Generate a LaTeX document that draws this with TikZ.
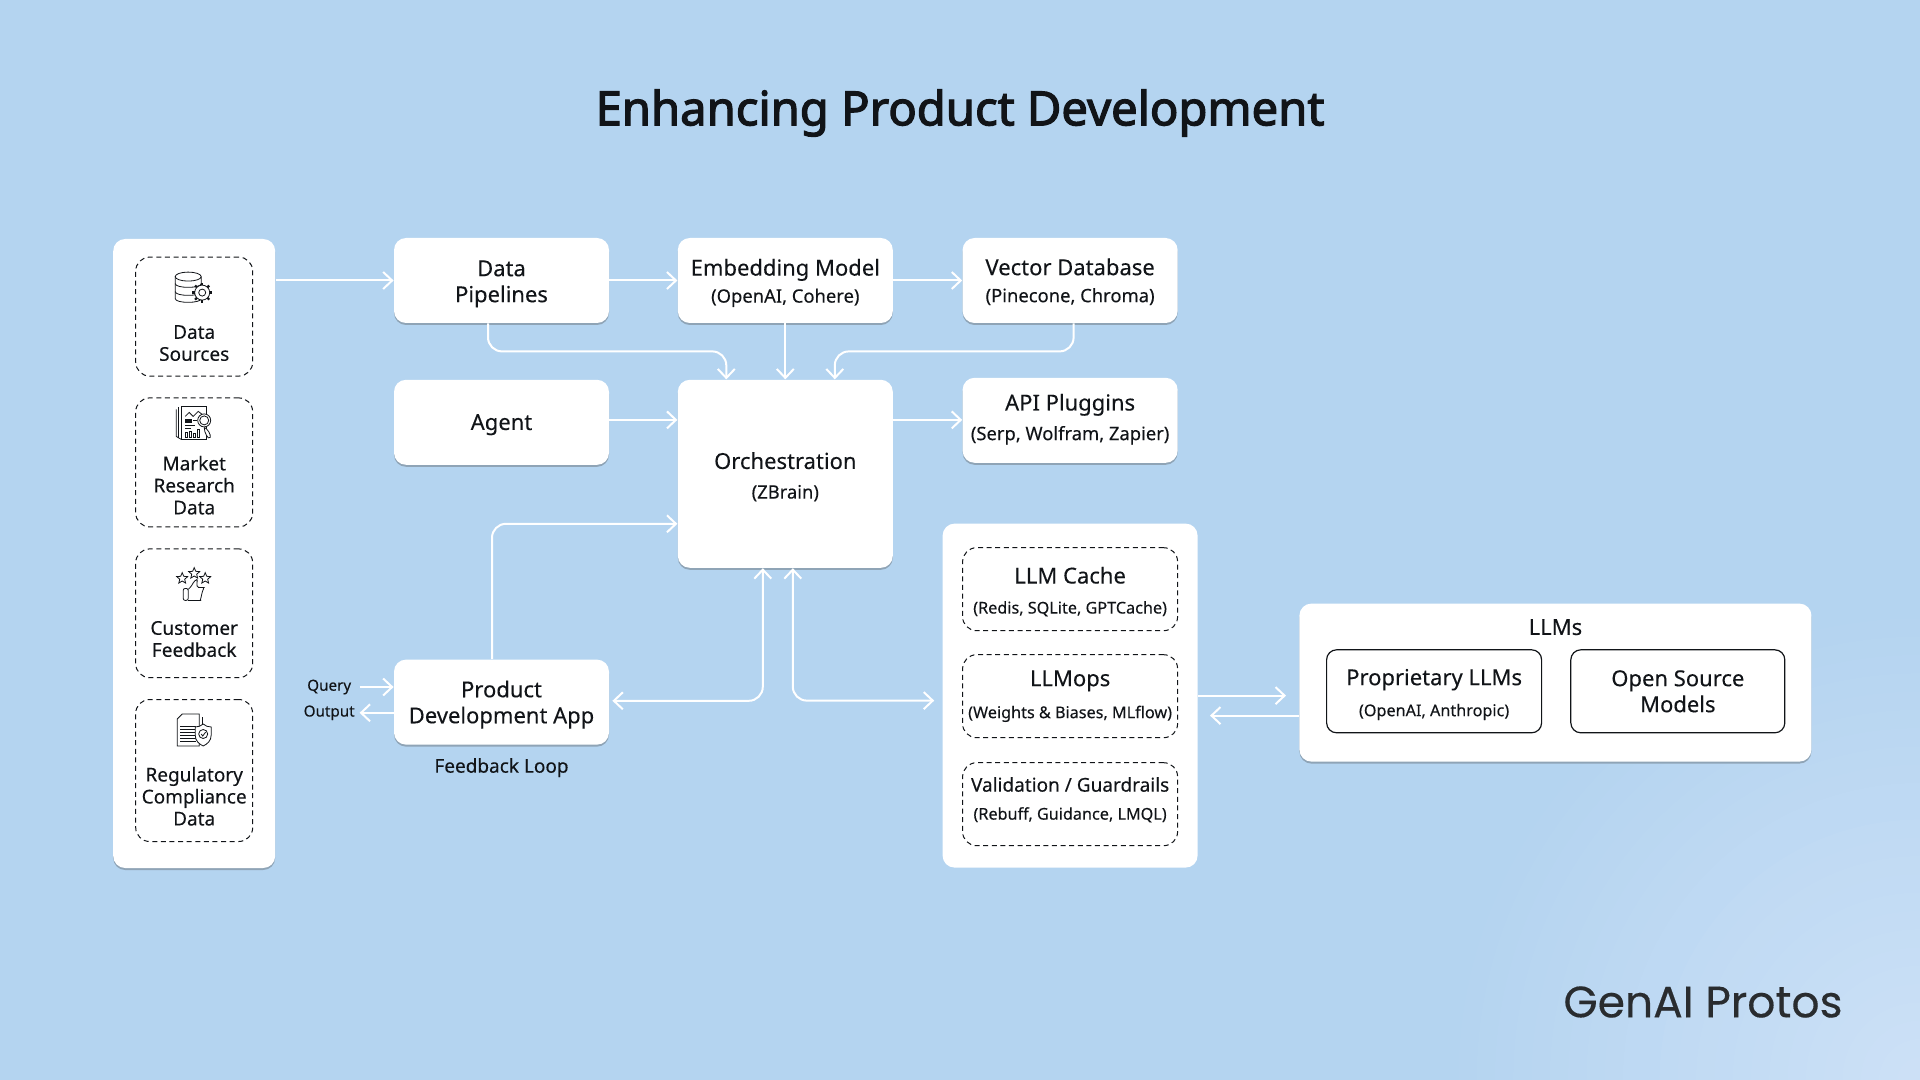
\documentclass[tikz,border=0pt]{standalone}
\usepackage{xcolor}
\usepackage{fontspec}
\setmainfont[FakeBold=0.2]{Noto Sans}
\newfontfamily\titlefont[FakeBold=2.6]{Noto Sans}
\newfontfamily\logofont[FakeBold=0.3]{Poppins}
\usetikzlibrary{positioning, arrows.meta, shadows}
\definecolor{bgblue}{HTML}{B4D4F0}
\definecolor{bglight}{HTML}{CCE0F6}
\definecolor{inkblack}{HTML}{111418}
\definecolor{shadowgray}{HTML}{8FA4B6}
\newcommand{\bigtxt}{\fontsize{11}{13}\selectfont}
\newcommand{\midtxt}{\fontsize{9.5}{11}\selectfont}
\newcommand{\seconds}{\fontsize{9.2}{11}\selectfont}
\newcommand{\subtxt}{\fontsize{8.1}{10}\selectfont}
\tikzstyle{flat} = [rectangle, rounded corners=6pt, fill=white, text=inkblack, align=center, inner sep=0pt, font=\bigtxt]
\tikzstyle{box} = [flat, minimum width=107.5pt, minimum height=42.5pt, text height=24.3pt, drop shadow={shadow xshift=0pt, shadow yshift=-1pt, fill=shadowgray, opacity=1}]
\tikzstyle{dashbox} = [rectangle, rounded corners=7pt, draw=inkblack, line width=.5pt, dash pattern=on 2.5pt off 1.8pt, align=center, inner sep=0pt, text=inkblack]
\tikzstyle{solidbox} = [rectangle, rounded corners=5pt, draw=inkblack, line width=.6pt, minimum width=107pt, minimum height=41.5pt, align=center, inner sep=0pt, text=inkblack, font=\bigtxt]
\tikzstyle{srctxt} = [align=center, inner sep=0pt, text=inkblack, font=\midtxt]
\tikzstyle{tag} = [align=center, inner sep=0pt, minimum width=30pt, text=inkblack, font=\fontsize{7.6}{10}\selectfont]
\tikzstyle{arrow} = [white, line width=1pt, ->, >={Straight Barb[length=4.5pt, width=8.5pt]}]
\tikzstyle{both} = [arrow, <->, rounded corners=7pt]
\tikzstyle{icon} = [draw=inkblack, line width=.4pt]
\tikzset{
  dbicon/.pic={
    \draw[icon] (-19,-10) -- (-19,12) .. controls (-19,17) and (7,17) .. (7,12) -- (7,-10);
    \draw[icon] (-6,-10) ellipse [x radius=13, y radius=4.5];
    \draw[icon] (-19,-3) .. controls (-19,2) and (7,2) .. (7,-3);
    \draw[icon] (-19,5) .. controls (-19,10) and (7,10) .. (7,5);
    \draw[icon, fill=white] (8,6) circle [radius=7.5];
    \foreach \a in {0,45,...,315} \draw[draw=inkblack, line width=1.1pt] (8,6) ++(\a:7.5) -- ++(\a:2.5);
    \draw[icon] (8,6) circle [radius=3.5];
  },
  reporticon/.pic={
    \draw[icon] (-18,-13) -- (-18,14) -- (-13,17);
    \draw[icon] (-15.5,-15) -- (-15.5,16);
    \draw[icon, fill=white] (-13,-16) rectangle (12,17);
    \draw[icon] (-9,-6) -- (-5,-10) -- (-1,-6) -- (4,-11) -- (8,-8);
    \draw[icon, fill=inkblack] (-9,-3) rectangle (-3,0);
    \draw[icon] (-1,-2) -- (3,-2);
    \draw[icon] (-9,3) -- (1,3);
    \draw[icon] (-9,6) -- (-3,6);
    \draw[icon] (-9,10) rectangle (-7,15);
    \draw[icon] (-5,9) rectangle (-3,15);
    \draw[icon] (-1,11) rectangle (1,15);
    \draw[icon] (3,7) rectangle (5,15);
    \draw[icon, fill=white] (10,-2) circle [radius=6.5];
    \draw[icon] (10,-2) circle [radius=4.5];
    \draw[icon, fill=white] (10,5) .. controls (13,6) and (17,12) .. (16,15) .. controls (14,18) and (10,10) .. (10,5);
  },
  starshape/.pic={
    \draw[icon, fill=white] (-90:5.8) -- (-54:2.6) -- (-18:5.8) -- (18:2.6) -- (54:5.8) -- (90:2.6) -- (126:5.8) -- (162:2.6) -- (198:5.8) -- (234:2.6) -- cycle;
  },
  thumbicon/.pic={
    \pic at (-12,-6) {starshape};
    \pic at (0,-11) {starshape};
    \pic at (11,-6) {starshape};
    \draw[icon, rounded corners=1pt] (-11,4) rectangle (-6,16);
    \draw[icon, rounded corners=1.5pt] (-6,5) -- (-2,1) -- (0,-4) .. controls (3,-5) and (3,-1) .. (2,3) -- (7,3) .. controls (9,3) and (9,5) .. (8,7) -- (7,13) .. controls (6,16) .. (4,16) -- (-6,16);
  },
  docicon/.pic={
    \draw[icon] (8,-13) -- (8,0);
    \draw[icon, fill=white] (-12,-16) -- (5,-16) -- (5,16) -- (-17,16) -- (-17,-11) -- cycle;
    \foreach \y in {-4,-1,2,5,8,11} \draw[icon] (-14,\y) -- (2,\y);
    \draw[icon, fill=white] (9,-6) .. controls (11,-4) and (14,-3) .. (17,-3) -- (17,5) .. controls (17,11) and (13,14) .. (9,16) .. controls (5,14) and (1,11) .. (1,5) -- (1,-3) .. controls (4,-3) and (7,-4) .. (9,-6) -- cycle;
    \draw[icon] (9,4) circle [radius=4.5];
    \draw[icon] (7,4) -- (8.5,6) -- (11.5,2);
  }
}
\begin{document}
\begin{tikzpicture}[x=0.5pt, y=-0.5pt]
    \useasboundingbox (0,0) rectangle (1920,1080);
    \fill[bgblue] (0,0) rectangle (1920,1080);
    \begin{scope}
      \clip (0,0) rectangle (1920,1080);
      \foreach \p in {4,8,...,100} \fill[bglight!\p!bgblue] (1920,1080) circle [radius={480*(1-\p/105)}];
    \end{scope}
    %
    \node(title)[text=inkblack, font=\titlefont\fontsize{23.6}{28}\selectfont] at (960,113) {Enhancing Product Development};
    \node(logo)[text=inkblack!90, font=\logofont\fontsize{22}{26}\selectfont] at (1703,1002) {GenAI Protos};
    %
    \node(pipelines)[box] at (501.5,280.5) {Data\\Pipelines};
    \node(embedding)[box, right=34pt of pipelines] {Embedding Model\\[.5pt]{\seconds (OpenAI, Cohere)}};
    \node(vector)[box, text height=23.1pt, right=34.5pt of embedding] {Vector Database\\[.5pt]{\seconds (Pinecone, Chroma)}};
    \node(agent)[box, text height=10.3pt, below=28pt of pipelines] {Agent};
    \node(orch)[box, text height=26.2pt, minimum height=94pt, below=28pt of embedding] {Orchestration\\[1.8pt]{\seconds (ZBrain)}};
    \node(api)[box, text height=22pt, below=27pt of vector] {API Pluggins\\[1.8pt]{\seconds (Serp, Wolfram, Zapier)}};
    \node(product)[box, text height=23.8pt, below=97pt of agent] {Product\\Development App};
    \node(loop)[srctxt, below=6.4pt of product] {Feedback Loop};
    \node(query)[tag, left=17pt of {[yshift=7.55pt]product.west}] {Query};
    \node(output)[tag, left=17pt of {[yshift=-5.35pt]product.west}] {Output};
    %
    \node(srcpanel)[flat, anchor=north east, minimum width=81pt, minimum height=314.5pt, drop shadow={shadow xshift=0pt, shadow yshift=-1pt, fill=shadowgray, opacity=1}] at ([xshift=-59pt, yshift=-.5pt]pipelines.north west) {};
    \node(srcA)[dashbox, minimum width=58.5pt, minimum height=59.5pt, below=9pt of srcpanel.north] {};
    \node(srcB)[dashbox, minimum width=58.5pt, minimum height=64.5pt, below=10.4pt of srcA] {};
    \node(srcC)[dashbox, minimum width=58.5pt, minimum height=64.4pt, below=10.5pt of srcB] {};
    \node(srcD)[dashbox, minimum width=58.5pt, minimum height=71pt, below=10.4pt of srcC] {};
    \node(srcAtxt)[srctxt] at ([yshift=16.75pt]srcA.south) {Data\\Sources};
    \node(srcBtxt)[srctxt] at ([yshift=21.1pt]srcB.south) {Market\\Research\\Data};
    \node(srcCtxt)[srctxt] at ([yshift=19.6pt]srcC.south) {Customer\\Feedback};
    \node(srcDtxt)[srctxt] at ([yshift=22.85pt]srcD.south) {Regulatory\\Compliance\\Data};
    \pic at ([yshift=-15pt]srcA.north) {dbicon};
    \pic at ([yshift=-12.5pt]srcB.north) {reporticon};
    \pic at ([yshift=-18pt]srcC.north) {thumbicon};
    \pic at ([yshift=-15.5pt]srcD.north) {docicon};
    %
    \node(midpanel)[flat, minimum width=127.5pt, minimum height=172pt, below=30pt of api] {};
    \node(cache)[dashbox, font=\bigtxt, text height=25.7pt, minimum width=107.5pt, minimum height=41.5pt, below=12pt of midpanel.north] {LLM Cache\\[2pt]{\subtxt (Redis, SQLite, GPTCache)}};
    \node(mops)[dashbox, font=\bigtxt, minimum width=107.5pt, minimum height=41.5pt, below=11.5pt of cache] {LLMops\\[3pt]{\subtxt (Weights \& Biases, MLflow)}};
    \node(guard)[dashbox, font=\midtxt, minimum width=107.5pt, minimum height=41.5pt, below=12pt of mops] {Validation / Guardrails\\[3pt]{\subtxt (Rebuff, Guidance, LMQL)\rule[-5.8pt]{0pt}{0pt}}};
    %
    \node(llms)[flat, minimum width=256pt, minimum height=79pt, right=50.5pt of midpanel, yshift=6.5pt, drop shadow={shadow xshift=0pt, shadow yshift=-1pt, fill=shadowgray, opacity=1}] {};
    \node(llmstxt)[srctxt, font=\bigtxt] at ([yshift=-12pt]llms.north) {LLMs};
    \node(proprietary)[solidbox, text height=26.8pt, minimum width=107.5pt, anchor=north west] at ([xshift=13.5pt, yshift=-23pt]llms.north west) {Proprietary LLMs\\[2.5pt]{\subtxt (OpenAI, Anthropic)}};
    \node(opensource)[solidbox, right=14pt of proprietary] {Open Source\\Models};
    %
    \draw[arrow](srcpanel.east |- pipelines.west) -- (pipelines.west);
    \draw[arrow](pipelines.east) -- (pipelines.east -| embedding.west);
    \draw[arrow](embedding.east) -- (embedding.east -| vector.west);
    \draw[arrow]([yshift=1.2pt]agent.east) -- ([yshift=1.2pt]agent.east -| orch.west);
    \draw[arrow]([yshift=1.2pt]orch.east |- agent.east) -- ([yshift=1.2pt]api.west |- agent.east);
    \draw[arrow](embedding.south) -- (embedding.south |- orch.north);
    \draw[arrow, rounded corners=7pt]([xshift=-6.75pt]pipelines.south) -- ++(0,28) -| ([xshift=-29.5pt]orch.north);
    \draw[arrow, rounded corners=7pt]([xshift=1.75pt]vector.south) -- ++(0,28) -| ([xshift=24.75pt]orch.north);
    \draw[arrow, rounded corners=7pt]([xshift=-4.75pt]product.north) |- ([yshift=-25pt]orch.west);
    \draw[both, shorten >=1.5pt]([xshift=-11.25pt]orch.south) |- ([yshift=.65pt]product.east);
    \draw[both, shorten >=4pt]([xshift=3.75pt]orch.south) |- ([yshift=-2.5pt]midpanel.west);
    \draw[arrow](query.east) -- (query.east -| product.west);
    \draw[arrow](output.east -| product.west) -- (output.east);
    \draw[arrow, shorten >=6.5pt](midpanel.east) -- (midpanel.east -| llms.west);
    \draw[arrow, shorten >=6pt]([yshift=-16.5pt]llms.west) -- ([yshift=-16.5pt]llms.west -| midpanel.east);
\end{tikzpicture}
\end{document}
